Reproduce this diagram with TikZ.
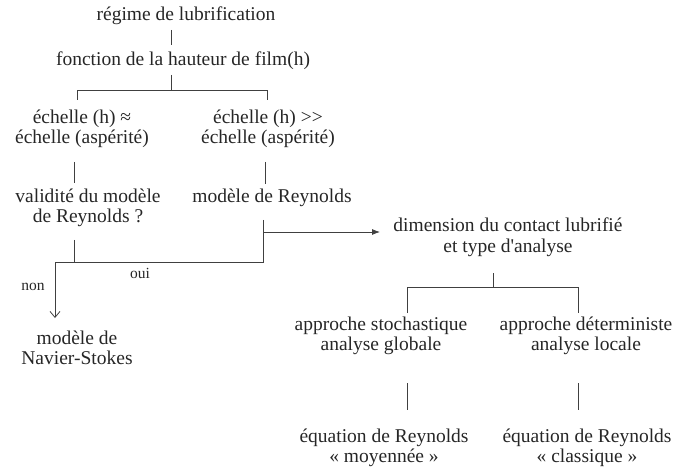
\documentclass[tikz,border=0pt]{standalone}
\usepackage{fontspec}
\newfontfamily\libserif{Liberation Serif}
\usetikzlibrary{arrows.meta}
\begin{document}
\begin{tikzpicture}[x=1pt,y=-1pt,
  txt/.style={inner sep=0pt,align=center,font=\libserif\fontsize{19.5}{20.5}\selectfont,text=black!85},
  lbl/.style={inner sep=0pt,font=\libserif\fontsize{15.5}{17}\selectfont,text=black!85},
  conn/.style={draw=black!75,line width=0.8pt}]
\useasboundingbox (0,0) rectangle (690,470);
\node[txt] (n1) at (186,16) {régime de lubrification};
\node[txt] (n2) at (183,61) {fonction de la hauteur de film(h)};
\node[txt] (n3) at (82,129) {échelle (h) ≈\\échelle (aspérité)};
\node[txt] (n4) at (268,129) {échelle (h) >>\\échelle (aspérité)};
\node[txt] (n5) at (88,208) {validité du modèle\\de Reynolds ?};
\node[txt] (n6) at (272,198) {modèle de Reynolds};
\node[txt] (n7) at (508,237) {dimension du contact lubrifié\\et type d'analyse};
\node[txt] (n8) at (77,348) {modèle de\\Navier-Stokes};
\node[txt] (n9) at (381,336) {approche stochastique\\analyse globale};
\node[txt] (n10) at (586,336) {approche déterministe\\analyse locale};
\node[txt] (n11) at (384,448) {équation de Reynolds\\« moyennée »};
\node[txt] (n12) at (587,448) {équation de Reynolds\\« classique »};
\node[lbl] (oui) at (140,273) {oui};
\node[lbl] (non) at (33,287) {non};
% connectors
\coordinate (a1) at (171,30); \coordinate (a2) at (171,45);
\coordinate (b1) at (171,75); \coordinate (b2) at (171,90);
\coordinate (bl) at (77,90); \coordinate (br) at (267,90);
\coordinate (bl2) at (77,100); \coordinate (br2) at (267,100);
\coordinate (c1) at (74,162); \coordinate (c2) at (74,183);
\coordinate (d1) at (265,162); \coordinate (d2) at (265,184);
\coordinate (e1) at (74,240); \coordinate (e2) at (74,262);
\coordinate (f1) at (263,220); \coordinate (f2) at (263,262);
\coordinate (g) at (55,262); \coordinate (g2) at (55,318);
\coordinate (h) at (263,232); \coordinate (h2) at (380,232);
\coordinate (k1) at (493,273); \coordinate (k2) at (493,287);
\coordinate (kl) at (407,287); \coordinate (kr) at (578,287);
\coordinate (kl2) at (407,313); \coordinate (kr2) at (578,313);
\coordinate (m1) at (407,383); \coordinate (m2) at (407,410);
\coordinate (p1) at (578,383); \coordinate (p2) at (578,410);
\draw[conn] (a1) -- (a2);
\draw[conn] (b1) -- (b2);
\draw[conn] (bl2) -- (bl) -- (br) -- (br2);
\draw[conn] (c1) -- (c2);
\draw[conn] (d1) -- (d2);
\draw[conn] (e1) -- (e2);
\draw[conn] (f1) -- (f2) -- (g);
\draw[conn,-{Straight Barb[length=6pt,width=10pt]}] (g) -- (g2);
\draw[conn,-{Latex[length=8pt,width=6pt]}] (h) -- (h2);
\draw[conn] (k1) -- (k2);
\draw[conn] (kl2) -- (kl) -- (kr) -- (kr2);
\draw[conn] (m1) -- (m2);
\draw[conn] (p1) -- (p2);
\end{tikzpicture}
\end{document}
